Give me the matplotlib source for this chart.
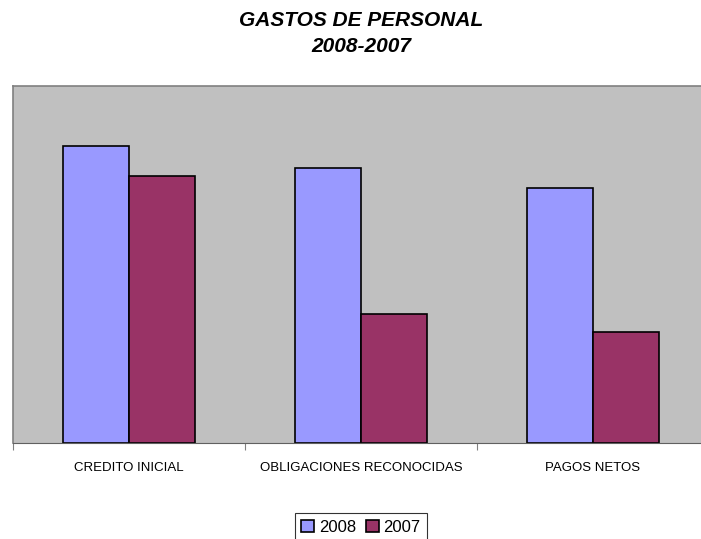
import matplotlib
matplotlib.use("Agg")
import matplotlib.pyplot as plt
import numpy as np

plt.rcParams['font.family'] = ['Liberation Sans', 'DejaVu Sans']

# datos (sin escala visible)
categorias = ['CREDITO INICIAL', 'OBLIGACIONES RECONOCIDAS', 'PAGOS NETOS']
gastos_2008 = [297, 275, 255]
gastos_2007 = [267, 129, 111]
series = ['2008', '2007']

fig = plt.figure(figsize=(7.01, 5.39), dpi=100)
ax = fig.add_axes([13/701, 1 - 443/539, 696/701, 357/539])
ax.set_facecolor('#C0C0C0')

x = np.arange(len(categorias))
w = 0.284
ax.bar(x - w, gastos_2008, w, align='edge', color='#9999FF', edgecolor='black', linewidth=1.2, label=series[0])
ax.bar(x, gastos_2007, w, align='edge', color='#993366', edgecolor='black', linewidth=1.2, label=series[1])

ax.set_xlim(-0.5, 2.5)
ax.set_ylim(0, 357)
ax.set_yticks([])

ax.set_xticks(x - 0.5)
ax.set_xticklabels([])
ax.tick_params(axis='x', which='major', length=5, color='#808080', direction='out')
ax.set_xticks(x, minor=True)
ax.set_xticklabels(categorias, minor=True, fontsize=9.5)
ax.tick_params(axis='x', which='minor', length=0, pad=14)

for s in ['left', 'top', 'right']:
    ax.spines[s].set_color('#808080')
    ax.spines[s].set_linewidth(1.2)
ax.spines['bottom'].set_color('#606060')

fig.text(361/701, 1 - 20/539, 'GASTOS DE PERSONAL', ha='center', va='center',
         fontsize=15, fontweight='bold', fontstyle='italic')
fig.text(361/701, 1 - 46/539, '2008-2007', ha='center', va='center',
         fontsize=15, fontweight='bold', fontstyle='italic')

leg = fig.legend(loc='center', bbox_to_anchor=(361/701, 1 - 527/539), ncol=2,
                 fontsize=12, frameon=True, fancybox=False, edgecolor='black',
                 handlelength=0.75, handleheight=0.75, handletextpad=0.3,
                 columnspacing=0.6, borderpad=0.4)
leg.get_frame().set_linewidth(0.8)

fig.savefig('out.png', dpi=100)
